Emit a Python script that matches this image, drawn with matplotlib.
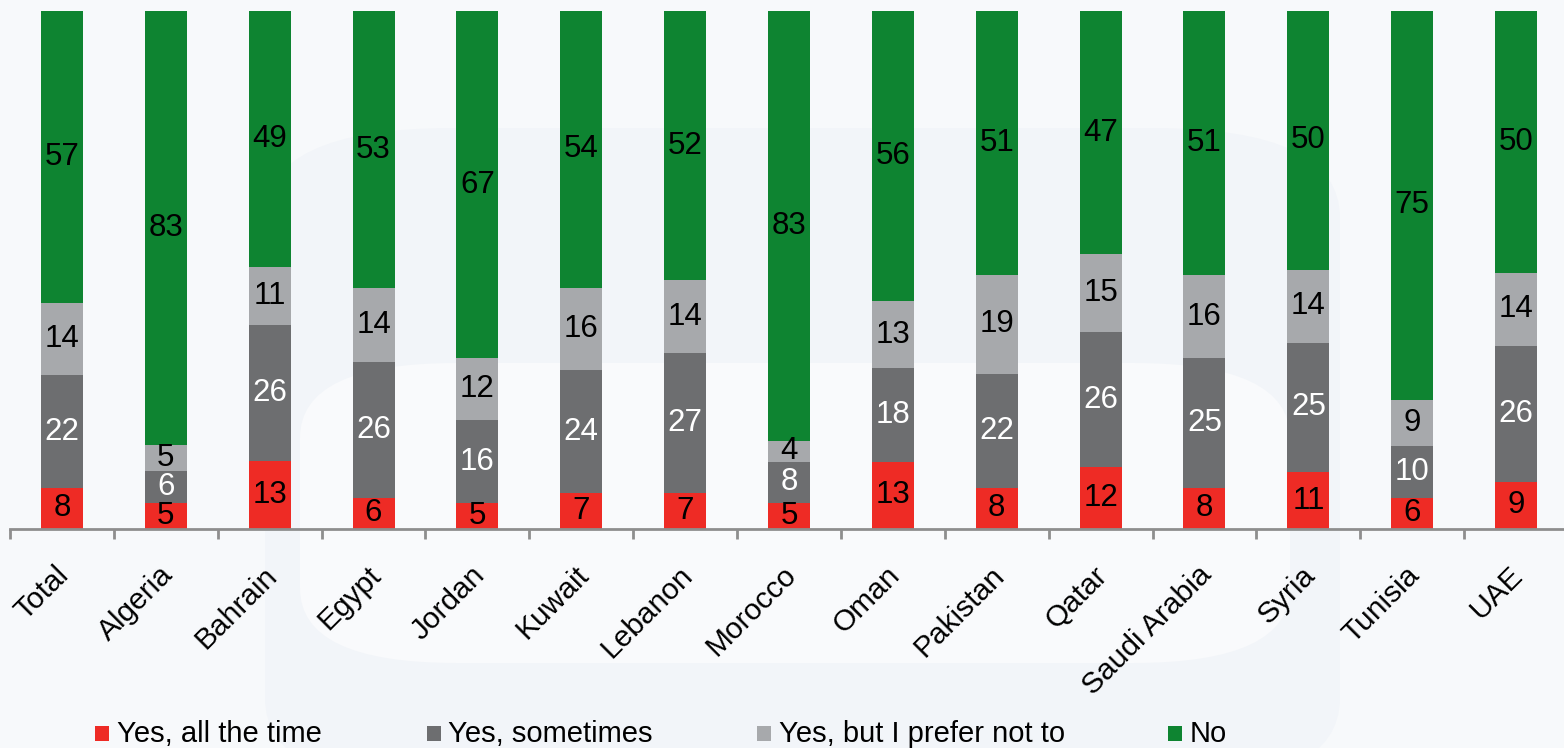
import numpy as np
import matplotlib
matplotlib.use("Agg")
import matplotlib.pyplot as plt
from matplotlib.patches import Rectangle, FancyBboxPatch
from matplotlib.transforms import ScaledTranslation

plt.rcParams['font.family'] = ['Liberation Sans', 'DejaVu Sans']

# Survey answers by country (percent of respondents)
categories = ["Total", "Algeria", "Bahrain", "Egypt", "Jordan", "Kuwait", "Lebanon",
              "Morocco", "Oman", "Pakistan", "Qatar", "Saudi Arabia", "Syria",
              "Tunisia", "UAE"]
series_names = ["Yes, all the time", "Yes, sometimes", "Yes, but I prefer not to", "No"]
all_the_time = [8, 5, 13, 6, 5, 7, 7, 5, 13, 8, 12, 8, 11, 6, 9]
sometimes = [22, 6, 26, 26, 16, 24, 27, 8, 18, 22, 26, 25, 25, 10, 26]
prefer_not = [14, 5, 11, 14, 12, 16, 14, 4, 13, 19, 15, 16, 14, 9, 14]
no = [57, 83, 49, 53, 67, 54, 52, 83, 56, 51, 47, 51, 50, 75, 50]

colors = ["#ee2b25", "#6d6e70", "#a7a9ac", "#0e8431"]
text_colors = ["black", "white", "black", "black"]

W, H = 1564, 748
fig = plt.figure(figsize=(W / 100, H / 100), dpi=100)
bg = "#f7f9fb"
fig.patch.set_facecolor(bg)

# faint backdrop shapes
fig.add_artist(FancyBboxPatch((265 / W, -40 / H), 1075 / W, 660 / H,
                              boxstyle="round,pad=0,rounding_size=0.12",
                              transform=fig.transFigure, facecolor="#f2f5f9",
                              edgecolor="none", zorder=0))
fig.add_artist(FancyBboxPatch((300 / W, 85 / H), 990 / W, 300 / H,
                              boxstyle="round,pad=0,rounding_size=0.1",
                              transform=fig.transFigure, facecolor="#f9fafc",
                              edgecolor="none", zorder=0))

ax = fig.add_axes([10 / W, 219 / H, 1558 / W, 518 / H])
ax.set_facecolor("none")

series = np.array([all_the_time, sometimes, prefer_not, no], dtype=float)
totals = series.sum(axis=0)
shares = series / totals * 100.0

x = np.arange(len(categories))
bottom = np.zeros(len(categories))
for vals, share, col, tcol in zip(series, shares, colors, text_colors):
    ax.bar(x, share, bottom=bottom, width=0.405, color=col, edgecolor="none", zorder=2)
    for xi, v, s, b in zip(x, vals, share, bottom):
        ax.text(xi, b + s / 2, f"{int(v)}", ha="center", va="center",
                fontsize=22.5, color=tcol, zorder=3)
    bottom += share

ax.set_xlim(-0.5, len(categories) - 0.5)
ax.set_ylim(0, 100)

for side in ["left", "right", "top"]:
    ax.spines[side].set_visible(False)
ax.spines["bottom"].set_color("#8e8e8e")
ax.spines["bottom"].set_linewidth(2)
ax.set_yticks([])

ax.set_xticks(x)
ax.set_xticks(np.arange(-0.5, len(categories), 1.0), minor=True)
ax.tick_params(axis="x", which="major", length=0, pad=23)
ax.tick_params(axis="x", which="minor", length=7, width=2, color="#8e8e8e",
               direction="out")
labels = ax.set_xticklabels(categories, rotation=45, ha="right", va="top",
                            rotation_mode="anchor", fontsize=21.5)
offset = ScaledTranslation(-7 / 100, 0, fig.dpi_scale_trans)
for lab in labels:
    lab.set_transform(lab.get_transform() + offset)

# legend along the bottom edge
marker_x = [95, 427, 757, 1168]
text_x = [117, 448, 779, 1190]
for name, col, mx, tx in zip(series_names, colors, marker_x, text_x):
    fig.add_artist(Rectangle((mx / W, (H - 741) / H), 14 / W, 15 / H,
                             transform=fig.transFigure, facecolor=col,
                             edgecolor="none"))
    fig.text(tx / W, (H - 742) / H, name, ha="left", va="baseline", fontsize=21)

fig.savefig("out.png", dpi=100, facecolor=bg)
